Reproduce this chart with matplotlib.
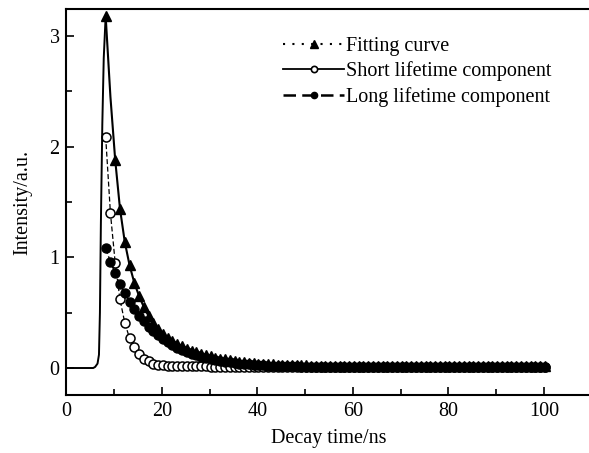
import numpy as np
import matplotlib
matplotlib.use("Agg")
import matplotlib.pyplot as plt
from matplotlib.ticker import MultipleLocator
from matplotlib.lines import Line2D

plt.rcParams['font.family'] = ['Liberation Serif', 'DejaVu Serif']

# rise of the measured/fitted curve (before the peak)
t_rise = [0.0, 5.0, 5.6, 6.0, 6.5, 6.8, 7.0, 7.2, 7.5, 7.8, 8.2]
fit_rise = [0.0, 0.0, 0.0, 0.01, 0.04, 0.12, 0.5, 1.3, 2.2, 2.8, 3.18]

# decay grid (ns)
t_decay = np.arange(8.2, 100.3, 1.0)

fit_vals = [3.18, 2.45, 1.88, 1.44, 1.14, 0.93, 0.77, 0.65, 0.55, 0.47,
            0.405, 0.355, 0.31, 0.275, 0.245, 0.22, 0.196, 0.176, 0.158, 0.142,
            0.128, 0.115, 0.104, 0.094, 0.085, 0.077, 0.070, 0.064, 0.058, 0.053,
            0.048, 0.044, 0.040, 0.037, 0.034, 0.032, 0.030, 0.028, 0.027, 0.026,
            0.025, 0.024, 0.023, 0.022, 0.022, 0.021, 0.021, 0.020, 0.020, 0.020,
            0.019, 0.019, 0.019, 0.019, 0.018, 0.018, 0.018, 0.018, 0.018, 0.018,
            0.017, 0.017, 0.017, 0.017, 0.017, 0.017, 0.017, 0.017, 0.017, 0.017,
            0.016, 0.016, 0.016, 0.016, 0.016, 0.016, 0.016, 0.016, 0.016, 0.016,
            0.016, 0.016, 0.016, 0.016, 0.016, 0.016, 0.016, 0.016, 0.016, 0.016,
            0.016, 0.016, 0.016]

short_vals = [2.09, 1.40, 0.95, 0.62, 0.41, 0.27, 0.19, 0.13, 0.085, 0.06,
              0.04, 0.03, 0.025, 0.022, 0.02, 0.019, 0.018, 0.017, 0.016, 0.015,
              0.015, 0.014, 0.013, 0.013, 0.012, 0.012, 0.011, 0.011, 0.010, 0.010,
              0.010, 0.009, 0.009, 0.008, 0.008, 0.008, 0.007, 0.007, 0.007, 0.006,
              0.006, 0.006, 0.005, 0.005, 0.005, 0.005, 0.005, 0.005, 0.005, 0.005,
              0.005, 0.005, 0.005, 0.005, 0.005, 0.005, 0.005, 0.005, 0.005, 0.005,
              0.005, 0.005, 0.005, 0.005, 0.005, 0.005, 0.005, 0.005, 0.005, 0.005,
              0.005, 0.005, 0.005, 0.005, 0.005, 0.005, 0.005, 0.005, 0.005, 0.005,
              0.005, 0.005, 0.005, 0.005, 0.005, 0.005, 0.005, 0.005, 0.005, 0.005,
              0.005, 0.005, 0.005]

long_vals = [1.08, 0.96, 0.854, 0.759, 0.675, 0.60, 0.533, 0.474, 0.421, 0.375,
             0.333, 0.296, 0.263, 0.234, 0.208, 0.185, 0.164, 0.146, 0.130, 0.115,
             0.103, 0.091, 0.081, 0.072, 0.064, 0.057, 0.051, 0.045, 0.040, 0.036,
             0.032, 0.029, 0.026, 0.024, 0.022, 0.020, 0.018, 0.017, 0.016, 0.015,
             0.014, 0.013, 0.012, 0.012, 0.011, 0.011, 0.011, 0.010, 0.010, 0.010,
             0.010, 0.010, 0.010, 0.010, 0.010, 0.010, 0.010, 0.010, 0.010, 0.010,
             0.010, 0.010, 0.010, 0.010, 0.010, 0.010, 0.010, 0.010, 0.010, 0.010,
             0.010, 0.010, 0.010, 0.010, 0.010, 0.010, 0.010, 0.010, 0.010, 0.010,
             0.010, 0.010, 0.010, 0.010, 0.010, 0.010, 0.010, 0.010, 0.010, 0.010,
             0.010, 0.010, 0.010]

labels = ['Fitting curve', 'Short lifetime component', 'Long lifetime component']

fig = plt.figure(figsize=(5.89, 4.53), dpi=100)
ax = fig.add_axes([0.1129, 0.128, 0.8917, 0.852])

n = len(t_decay)
ax.plot(t_rise, fit_rise, '-', color='black', lw=1.4, zorder=3)
ax.plot(t_decay, short_vals, ls=(0, (4, 2)), color='black', lw=0.9,
        marker='o', ms=6.5, mfc='white', mec='black', mew=1.1, zorder=2)
ax.plot(t_decay, long_vals, ls=(0, (4, 2)), color='black', lw=1.0,
        marker='o', ms=6.5, mfc='black', mec='black', zorder=3)
ax.plot(t_decay, fit_vals, '-', color='black', lw=1.5,
        marker='^', ms=7.5, mfc='black', mec='black',
        markevery=[0] + list(range(2, n)), zorder=4)

handles = [
    Line2D([], [], ls=(0, (1, 3.5)), color='black', lw=1.5, marker='^', ms=6),
    Line2D([], [], ls='-', color='black', lw=1.3, marker='o', ms=4.5,
           mfc='white', mec='black', mew=1.2),
    Line2D([], [], ls='--', color='black', lw=1.8, marker='o', ms=4.5,
           mfc='black', mec='black', dashes=(5, 2.5)),
]
ax.legend(handles, labels, loc='upper left', bbox_to_anchor=(0.39, 0.96),
          frameon=False, fontsize=14.5, handlelength=3.0, handletextpad=0.1,
          labelspacing=0.28, borderaxespad=0.2)

ax.set_xlim(0, 110)
ax.set_ylim(-0.244, 3.243)
ax.xaxis.set_major_locator(MultipleLocator(20))
ax.xaxis.set_minor_locator(MultipleLocator(10))
ax.yaxis.set_major_locator(MultipleLocator(1))
ax.yaxis.set_minor_locator(MultipleLocator(0.5))
ax.tick_params(which='both', direction='in', labelsize=14.5, width=1.2,
               top=False, right=False)
ax.tick_params(which='major', length=6, pad=5)
ax.tick_params(which='minor', length=4)
for s in ax.spines.values():
    s.set_linewidth(1.5)
ax.set_xlabel('Decay time/ns', fontsize=14.5, labelpad=6)
ax.set_ylabel('Intensity/a.u.', fontsize=14.5, labelpad=12)

fig.savefig('out.png', dpi=100)
